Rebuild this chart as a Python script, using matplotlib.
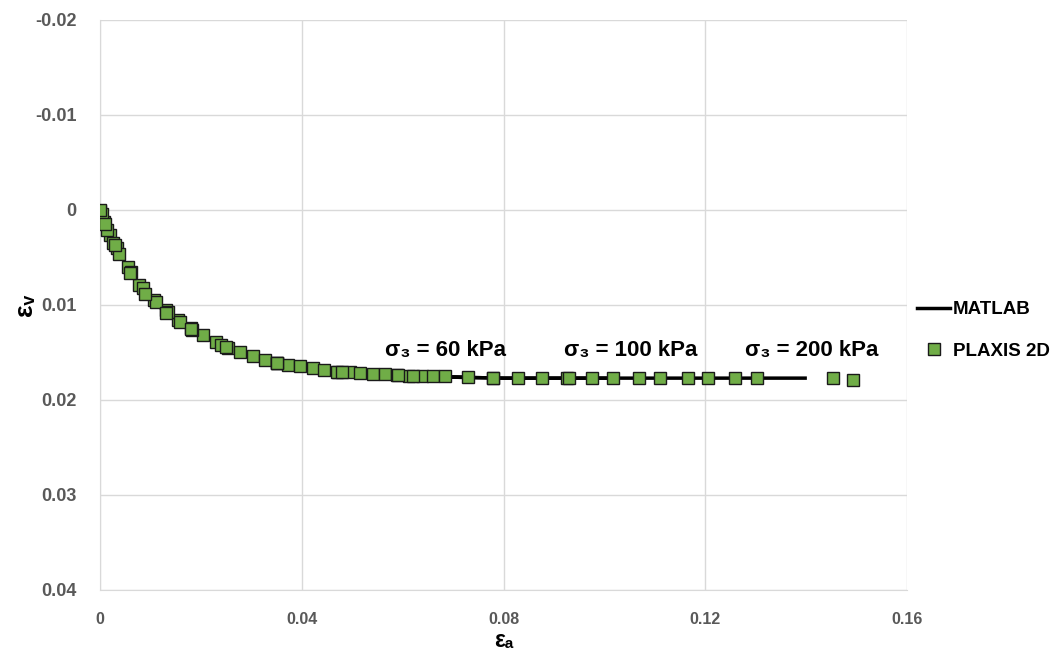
import matplotlib.pyplot as plt

# PLAXIS 2D results, one series per confining pressure
plaxis_60_x = [0.0, 0.0008, 0.0020, 0.0034, 0.0056, 0.0077, 0.0107, 0.0131, 0.0155, 0.0180,
               0.0204, 0.0230, 0.0254, 0.0278, 0.0303, 0.0327, 0.0351, 0.0373, 0.0397, 0.0422,
               0.0444, 0.0472, 0.0496, 0.0515, 0.0541, 0.0565, 0.0589, 0.0613, 0.0638, 0.0660,
               0.0684]
plaxis_60_y = [0.0001, 0.0013, 0.0026, 0.0040, 0.0060, 0.0079, 0.0095, 0.0105, 0.0116, 0.0124,
               0.0132, 0.0139, 0.0145, 0.0149, 0.0154, 0.0158, 0.0161, 0.0163, 0.0164, 0.0166,
               0.0168, 0.0171, 0.0171, 0.0172, 0.0173, 0.0173, 0.0174, 0.0175, 0.0175, 0.0175,
               0.0175]
plaxis_100_x = [0.0004, 0.0014, 0.0026, 0.0038, 0.0061, 0.0085, 0.0111, 0.0135, 0.0159, 0.0182,
                0.0240, 0.0350, 0.0470, 0.0590, 0.0730, 0.0779, 0.0829, 0.0876, 0.0926, 0.0975,
                0.1017]
plaxis_100_y = [0.0004, 0.0021, 0.0035, 0.0046, 0.0065, 0.0082, 0.0097, 0.0107, 0.0118, 0.0126,
                0.0142, 0.0161, 0.0171, 0.0174, 0.0176, 0.0177, 0.0177, 0.0177, 0.0177, 0.0177,
                0.0177]
plaxis_200_x = [0.0, 0.0010, 0.0030, 0.0060, 0.0090, 0.0130, 0.0180, 0.0250, 0.0350, 0.0480,
                0.0620, 0.0780, 0.0930, 0.1069, 0.1110, 0.1166, 0.1205, 0.1259, 0.1303, 0.1453,
                0.1493]
plaxis_200_y = [0.0, 0.0015, 0.0037, 0.0066, 0.0088, 0.0108, 0.0125, 0.0144, 0.0161, 0.0171,
                0.0175, 0.0177, 0.0177, 0.0177, 0.0177, 0.0177, 0.0177, 0.0177, 0.0177, 0.0177,
                0.0179]

# MATLAB model curves
matlab_60_x = [0.0, 0.002, 0.004, 0.006, 0.008, 0.010, 0.013, 0.016, 0.020, 0.025,
               0.030, 0.035, 0.040, 0.045, 0.050, 0.055, 0.060, 0.066, 0.072]
matlab_60_y = [0.0, 0.0026, 0.0046, 0.0066, 0.0082, 0.0094, 0.0107, 0.0119, 0.0132, 0.0145,
               0.0154, 0.0161, 0.0165, 0.0168, 0.0171, 0.0173, 0.0174, 0.0175, 0.0176]
matlab_100_x = [0.0, 0.002, 0.004, 0.006, 0.008, 0.010, 0.013, 0.016, 0.020, 0.025,
                0.030, 0.035, 0.040, 0.050, 0.060, 0.070, 0.080, 0.090, 0.101]
matlab_100_y = [0.0, 0.0026, 0.0046, 0.0066, 0.0082, 0.0094, 0.0107, 0.0119, 0.0132, 0.0145,
                0.0154, 0.0161, 0.0165, 0.0171, 0.0174, 0.0176, 0.0177, 0.0177, 0.0177]
matlab_200_x = [0.0, 0.002, 0.004, 0.006, 0.008, 0.010, 0.013, 0.016, 0.020, 0.025,
                0.030, 0.035, 0.040, 0.050, 0.060, 0.070, 0.080, 0.100, 0.120, 0.1398]
matlab_200_y = [0.0, 0.0026, 0.0046, 0.0066, 0.0082, 0.0094, 0.0107, 0.0119, 0.0132, 0.0145,
                0.0154, 0.0161, 0.0165, 0.0171, 0.0174, 0.0176, 0.0177, 0.0177, 0.0177, 0.0177]

labels = ['\u03c3\u2083 = 60 kPa', '\u03c3\u2083 = 100 kPa', '\u03c3\u2083 = 200 kPa']
label_x = [0.0685, 0.1053, 0.1412]
label_y = [0.0148, 0.0148, 0.0148]

x_ticks = [0, 0.04, 0.08, 0.12, 0.16]
y_ticks = [-0.02, -0.01, 0, 0.01, 0.02, 0.03, 0.04]

fam = ['Liberation Sans', 'DejaVu Sans']
tick_grey = '#595959'
green = '#70AD47'

fig = plt.figure(figsize=(10.57, 6.57), dpi=100)
ax = fig.add_axes([0.0946, 0.102, 0.7635, 0.8676])

for mx, my in [(matlab_60_x, matlab_60_y), (matlab_100_x, matlab_100_y), (matlab_200_x, matlab_200_y)]:
    ax.plot(mx, my, color='black', linewidth=2.5, zorder=2)
line_handle = ax.lines[0]

for px, py in [(plaxis_60_x, plaxis_60_y), (plaxis_100_x, plaxis_100_y), (plaxis_200_x, plaxis_200_y)]:
    ax.plot(px, py, linestyle='none', marker='s', markersize=8.2,
            markerfacecolor=green, markeredgecolor='#1a1a1a', markeredgewidth=1.0, zorder=3)
marker_handle = ax.lines[3]

for t, lx, ly in zip(labels, label_x, label_y):
    ax.text(lx, ly, t, ha='center', va='center', fontsize=16, fontweight='bold',
            family=fam, color='black')

ax.set_xlim(0, 0.16)
ax.set_ylim(0.04, -0.02)
ax.set_xticks(x_ticks)
ax.set_xticklabels(['0', '0.04', '0.08', '0.12', '0.16'])
ax.set_yticks(y_ticks)
ax.set_yticklabels(['-0.02', '-0.01', '0', '0.01', '0.02', '0.03', '0.04'])
ax.grid(True, color='#d9d9d9', linewidth=1.0)
ax.set_axisbelow(True)
for s in ax.spines.values():
    s.set_visible(False)
ax.spines['left'].set_visible(True)
ax.spines['left'].set_color('#d9d9d9')
ax.spines['bottom'].set_visible(True)
ax.spines['bottom'].set_color('#d9d9d9')
ax.tick_params(length=0, labelcolor=tick_grey)
ax.tick_params(axis='x', pad=16, labelsize=11.5)
ax.tick_params(axis='y', pad=17, labelsize=13)
for lbl in ax.get_xticklabels() + ax.get_yticklabels():
    lbl.set_fontweight('bold')
    lbl.set_family(fam)

ax.set_xlabel('\u03b5\u2090', fontsize=16.5, fontweight='bold', family=fam)
ax.xaxis.set_label_coords(0.5, -0.068)
ax.set_ylabel('\u03b5\u1d65', fontsize=19, fontweight='bold', family=fam)
ax.yaxis.set_label_coords(-0.078, 0.5)

fig.legend([line_handle, marker_handle], ['MATLAB', 'PLAXIS 2D'],
           loc='center left', bbox_to_anchor=(0.852, 0.497), frameon=False,
           prop={'family': fam, 'weight': 'bold', 'size': 13.5},
           handlelength=1.75, handletextpad=0.15, labelspacing=1.3)

fig.savefig('out.png', dpi=100)
